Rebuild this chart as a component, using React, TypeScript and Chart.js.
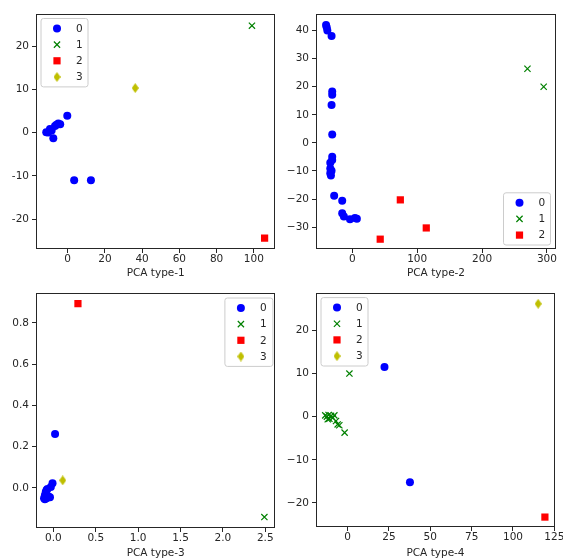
import React, { useEffect, useRef } from 'react';
import { Chart, registerables } from 'chart.js';

Chart.register(...registerables);

type Pt = [number, number];

// ---------------- Data ----------------
const classLabels = ['0', '1', '2', '3'];

// PCA type-1
const pca1Class0: Pt[] = [
  [-11.5, 0.1], [-10.5, 0.0], [-9.5, 0.8], [-8.6, 0.5], [-7.7, -1.3], [-6.8, 1.5],
  [-6.0, 1.8], [-5.0, 2.1], [-4.0, 1.9], [-0.2, 3.9], [3.5, -11.0], [12.5, -11.0],
];
const pca1Class1: Pt[] = [[99.0, 24.7]];
const pca1Class2: Pt[] = [[105.8, -24.4]];
const pca1Class3: Pt[] = [[36.3, 10.3]];
const pca1XTicks = [0, 20, 40, 60, 80, 100];
const pca1YTicks = [-20, -10, 0, 10, 20];

// PCA type-2
const pca2Class0: Pt[] = [
  [-40.5, 42.0], [-39.5, 41.2], [-38.5, 40.0], [-32.0, 38.1], [-31.0, 18.3], [-31.0, 17.1],
  [-32.0, 13.5], [-31.0, 3.0], [-31.0, -4.9], [-31.0, -6.1], [-34.0, -7.1], [-34.0, -9.1],
  [-32.0, -9.9], [-34.0, -10.8], [-33.0, -11.6], [-28.0, -18.8], [-15.6, -20.6], [-15.6, -25.1],
  [-13.0, -26.2], [-3.6, -27.2], [4.0, -26.8], [7.0, -27.0],
];
const pca2Class1: Pt[] = [[270.0, 26.4], [295.0, 20.0]];
const pca2Class2: Pt[] = [[74.0, -20.3], [114.0, -30.3], [43.0, -34.3]];
const pca2XTicks = [0, 100, 200, 300];
const pca2YTicks = [-30, -20, -10, 0, 10, 20, 30, 40];

// PCA type-3
const pca3Class0: Pt[] = [
  [0.02, 0.262], [-0.01, 0.023], [-0.03, 0.005], [-0.11, -0.05], [-0.1, -0.035], [-0.09, -0.02],
  [-0.08, -0.01], [-0.07, -0.005], [-0.06, -0.04], [-0.04, -0.045], [-0.1, -0.055], [-0.08, -0.05],
];
const pca3Class1: Pt[] = [[2.49, -0.141]];
const pca3Class2: Pt[] = [[0.29, 0.894]];
const pca3Class3: Pt[] = [[0.11, 0.037]];
const pca3XTicks = [0, 0.5, 1.0, 1.5, 2.0, 2.5];
const pca3YTicks = [0, 0.2, 0.4, 0.6, 0.8];

// PCA type-4
const pca4Class0: Pt[] = [[22.3, 11.5], [37.7, -15.2]];
const pca4Class1: Pt[] = [
  [1.1, 10.0], [-1.8, -3.7], [-13.5, 0.3], [-12.5, 0.0], [-11.5, 0.4], [-11.0, -0.5],
  [-10.0, 0.2], [-9.0, -0.3], [-8.0, 0.3], [-7.0, -1.0], [-6.0, -1.8], [-5.0, -2.0], [-12.0, -0.6],
];
const pca4Class2: Pt[] = [[119.3, -23.3]];
const pca4Class3: Pt[] = [[115.2, 26.2]];
const pca4XTicks = [0, 25, 50, 75, 100, 125];
const pca4YTicks = [-20, -10, 0, 10, 20];

// ---------------- Styles ----------------
const FONT_FAMILY = '"DejaVu Sans", Verdana, sans-serif';
const FONT_SIZE = 10.5;
const INK = '#262626';
const classColors = ['#0000ff', '#008000', '#ff0000', '#bfbf00'];

function makeThinDiamond(color: string, w: number, h: number) {
  const c = document.createElement('canvas');
  c.width = w;
  c.height = h;
  const g = c.getContext('2d')!;
  g.fillStyle = color;
  g.beginPath();
  g.moveTo(w / 2, 0);
  g.lineTo(w, h / 2);
  g.lineTo(w / 2, h);
  g.lineTo(0, h / 2);
  g.closePath();
  g.fill();
  return c;
}

type Marker = { pointStyle: any; radius: number; borderWidth: number };
let markerCache: Marker[] | null = null;
function markers(): Marker[] {
  if (!markerCache) {
    markerCache = [
      { pointStyle: 'circle', radius: 4, borderWidth: 0 },
      { pointStyle: 'crossRot', radius: 4.4, borderWidth: 1.2 },
      { pointStyle: 'rect', radius: 5.1, borderWidth: 0 },
      { pointStyle: makeThinDiamond(classColors[3], 7, 10), radius: 5, borderWidth: 0 },
    ];
  }
  return markerCache;
}

function drawMarker(ctx: CanvasRenderingContext2D, i: number, x: number, y: number) {
  const m = markers()[i];
  const color = classColors[i];
  ctx.save();
  ctx.fillStyle = color;
  ctx.strokeStyle = color;
  if (m.pointStyle === 'circle') {
    ctx.beginPath();
    ctx.arc(x, y, m.radius, 0, Math.PI * 2);
    ctx.fill();
  } else if (m.pointStyle === 'crossRot') {
    const d = m.radius * Math.SQRT1_2;
    ctx.lineWidth = m.borderWidth;
    ctx.beginPath();
    ctx.moveTo(x - d, y - d);
    ctx.lineTo(x + d, y + d);
    ctx.moveTo(x - d, y + d);
    ctx.lineTo(x + d, y - d);
    ctx.stroke();
  } else if (m.pointStyle === 'rect') {
    const s = m.radius * Math.SQRT1_2;
    ctx.fillRect(x - s, y - s, 2 * s, 2 * s);
  } else {
    const img = m.pointStyle as HTMLCanvasElement;
    ctx.drawImage(img, x - img.width / 2, y - img.height / 2);
  }
  ctx.restore();
}

const framePlugin = {
  id: 'pcaFrame',
  afterDatasetsDraw(chart: any) {
    const { ctx, chartArea: a } = chart;
    ctx.save();
    ctx.strokeStyle = INK;
    ctx.lineWidth = 1;
    const l = Math.round(a.left) + 0.5;
    const t = Math.round(a.top) + 0.5;
    const r = Math.round(a.right) - 0.5;
    const b = Math.round(a.bottom) - 0.5;
    ctx.strokeRect(l, t, r - l, b - t);
    ctx.restore();
  },
};

const legendPlugin = {
  id: 'pcaLegend',
  afterDraw(chart: any, _args: any, opts: any) {
    const { ctx, chartArea: a } = chart;
    const n = chart.data.datasets.length;
    const rowH = 16.2;
    const w = opts.width ?? 47;
    const h = n * rowH + 3.6;
    const x = opts.corner[1] === 'l' ? a.left + opts.dx : a.right - opts.dx - w;
    const y = opts.corner[0] === 'u' ? a.top + opts.dy : a.bottom - opts.dy - h;
    ctx.save();
    ctx.beginPath();
    const rr = 2.5;
    ctx.moveTo(x + rr, y);
    ctx.arcTo(x + w, y, x + w, y + h, rr);
    ctx.arcTo(x + w, y + h, x, y + h, rr);
    ctx.arcTo(x, y + h, x, y, rr);
    ctx.arcTo(x, y, x + w, y, rr);
    ctx.closePath();
    ctx.fillStyle = 'rgba(255,255,255,0.8)';
    ctx.fill();
    ctx.strokeStyle = '#cccccc';
    ctx.lineWidth = 1;
    ctx.stroke();
    ctx.font = `${FONT_SIZE}px ${FONT_FAMILY}`;
    ctx.fillStyle = INK;
    ctx.textBaseline = 'middle';
    ctx.textAlign = 'left';
    chart.data.datasets.forEach((ds: any, i: number) => {
      const cy = y + 1.8 + rowH * (i + 0.5);
      drawMarker(ctx, i, x + 16, cy);
      ctx.fillStyle = INK;
      ctx.fillText(ds.label, x + 35, cy + 0.5);
    });
    ctx.restore();
  },
};

type PanelDef = {
  left: number;
  top: number;
  width: number;
  height: number;
  area: { l: number; t: number; r: number; b: number };
  xMin: number;
  xMax: number;
  yMin: number;
  yMax: number;
  xTicks: number[];
  yTicks: number[];
  xFmt: (v: number) => string;
  yFmt: (v: number) => string;
  title: string;
  series: Pt[][];
  legend: { corner: string; dx: number; dy: number; width?: number };
};

const hyphenInt = (v: number) => String(Math.round(v));
const minusInt = (v: number) => String(Math.round(v)).replace('-', '\u2212');
const oneDec = (v: number) => v.toFixed(1).replace('-', '\u2212');

const panels: PanelDef[] = [
  {
    left: 0, top: 0, width: 281, height: 280,
    area: { l: 36, t: 14, r: 276, b: 249 },
    xMin: -17, xMax: 111.6, yMin: -26.9, yMax: 27.4,
    xTicks: pca1XTicks, yTicks: pca1YTicks, xFmt: hyphenInt, yFmt: hyphenInt,
    title: 'PCA type-1',
    series: [pca1Class0, pca1Class1, pca1Class2, pca1Class3],
    legend: { corner: 'ul', dx: 5, dy: 4.5 },
  },
  {
    left: 280, top: 0, width: 283, height: 280,
    area: { l: 36, t: 14, r: 276, b: 249 },
    xMin: -56, xMax: 314, yMin: -37.8, yMax: 45.9,
    xTicks: pca2XTicks, yTicks: pca2YTicks, xFmt: minusInt, yFmt: minusInt,
    title: 'PCA type-2',
    series: [pca2Class0, pca2Class1, pca2Class2],
    legend: { corner: 'lr', dx: 5.5, dy: 4 },
  },
  {
    left: 0, top: 280, width: 281, height: 280,
    area: { l: 36, t: 13, r: 276, b: 248 },
    xMin: -0.205, xMax: 2.62, yMin: -0.194, yMax: 0.945,
    xTicks: pca3XTicks, yTicks: pca3YTicks, xFmt: oneDec, yFmt: oneDec,
    title: 'PCA type-3',
    series: [pca3Class0, pca3Class1, pca3Class2, pca3Class3],
    legend: { corner: 'ur', dx: 2.5, dy: 5, width: 48 },
  },
  {
    left: 280, top: 280, width: 283, height: 280,
    area: { l: 36, t: 13, r: 275, b: 247 },
    xMin: -19.1, xMax: 125.4, yMin: -25.6, yMax: 28.7,
    xTicks: pca4XTicks, yTicks: pca4YTicks, xFmt: minusInt, yFmt: minusInt,
    title: 'PCA type-4',
    series: [pca4Class0, pca4Class1, pca4Class2, pca4Class3],
    legend: { corner: 'ul', dx: 5, dy: 4.6 },
  },
];

function Panel({ p }: { p: PanelDef }) {
  const ref = useRef<HTMLCanvasElement>(null);
  useEffect(() => {
    if (!ref.current) return;
    const ms = markers();
    const font = { family: FONT_FAMILY, size: FONT_SIZE };
    const n = p.series.length;
    const chart = new Chart(ref.current, {
      type: 'scatter',
      data: {
        datasets: p.series.map((pts, i) => ({
          label: classLabels[i],
          data: pts.map(([x, y]) => ({ x, y })),
          order: n - i,
          pointStyle: ms[i].pointStyle,
          pointRadius: ms[i].radius,
          pointHoverRadius: ms[i].radius,
          pointBorderWidth: ms[i].borderWidth,
          backgroundColor: classColors[i],
          borderColor: classColors[i],
          pointBackgroundColor: classColors[i],
          pointBorderColor: classColors[i],
        })),
      },
      options: {
        animation: false,
        responsive: false,
        maintainAspectRatio: false,
        events: [],
        layout: { padding: { left: 0, top: p.area.t, right: p.width - p.area.r, bottom: 0 } },
        plugins: {
          legend: { display: false },
          tooltip: { enabled: false },
          pcaLegend: p.legend,
        } as any,
        scales: {
          x: {
            type: 'linear',
            position: 'bottom',
            min: p.xMin,
            max: p.xMax,
            afterBuildTicks: (s: any) => {
              s.ticks = p.xTicks.map((v) => ({ value: v }));
            },
            afterFit: (s: any) => {
              s.height = p.height - p.area.b;
              s.paddingLeft = 0;
              s.paddingRight = 0;
            },
            grid: { drawOnChartArea: false, drawTicks: true, tickLength: 4, color: INK, lineWidth: 1 },
            border: { display: false },
            ticks: {
              font,
              color: INK,
              padding: 0,
              maxRotation: 0,
              autoSkip: false,
              callback: (v: any) => p.xFmt(Number(v)),
            },
            title: { display: true, text: p.title, font, color: INK, padding: 0 },
          },
          y: {
            type: 'linear',
            position: 'left',
            min: p.yMin,
            max: p.yMax,
            afterBuildTicks: (s: any) => {
              s.ticks = p.yTicks.map((v) => ({ value: v }));
            },
            afterFit: (s: any) => {
              s.width = p.area.l;
              s.paddingTop = 0;
              s.paddingBottom = 0;
            },
            grid: { drawOnChartArea: false, drawTicks: true, tickLength: 4, color: INK, lineWidth: 1 },
            border: { display: false },
            ticks: {
              font,
              color: INK,
              padding: 3,
              autoSkip: false,
              callback: (v: any) => p.yFmt(Number(v)),
            },
          },
        },
      } as any,
      plugins: [framePlugin, legendPlugin] as any,
    });
    return () => chart.destroy();
  }, [p]);

  return (
    <canvas
      ref={ref}
      width={p.width}
      height={p.height}
      style={{ position: 'absolute', left: p.left, top: p.top, width: p.width, height: p.height }}
    />
  );
}

export default function App() {
  return (
    <div
      style={{
        position: 'absolute',
        left: 0,
        top: 0,
        width: 563,
        height: 560,
        background: '#ffffff',
        overflow: 'hidden',
      }}
    >
      {panels.map((p, i) => (
        <Panel key={i} p={p} />
      ))}
    </div>
  );
}
